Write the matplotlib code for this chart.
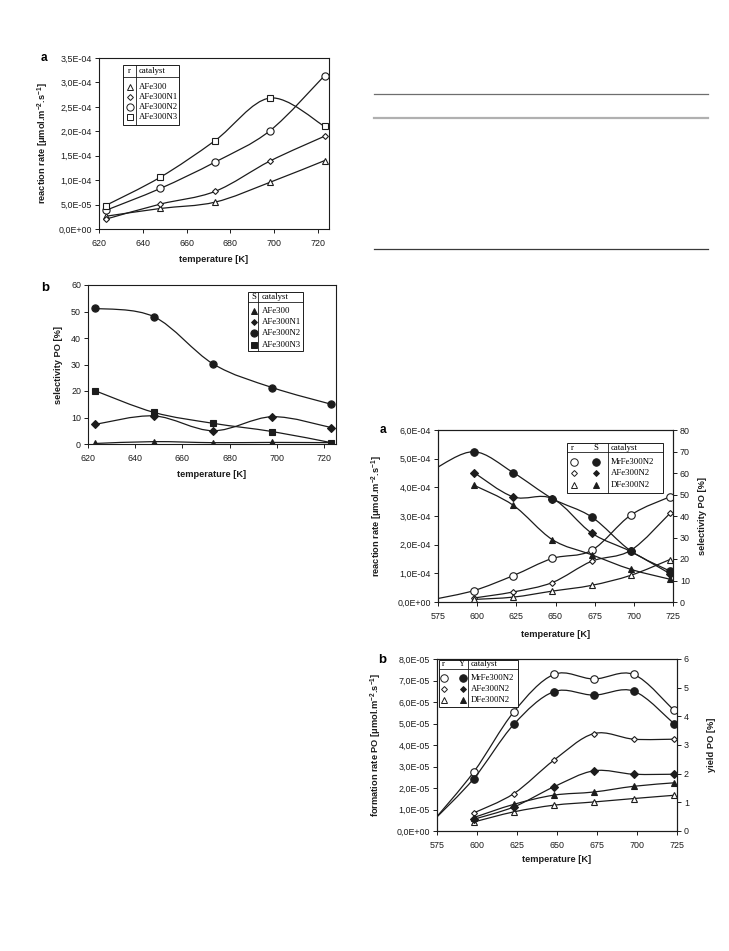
import numpy as np
import matplotlib
matplotlib.use('Agg')
import matplotlib.pyplot as plt
from matplotlib.path import Path
from matplotlib.patches import PathPatch, Rectangle
from matplotlib.lines import Line2D
from matplotlib.ticker import FuncFormatter, MultipleLocator

plt.rcParams['font.family'] = ['Liberation Sans', 'DejaVu Sans']
plt.rcParams['mathtext.fontset'] = 'custom'
plt.rcParams['mathtext.rm'] = 'Liberation Sans:bold'
plt.rcParams['mathtext.it'] = 'Liberation Sans:bold'
plt.rcParams['mathtext.bf'] = 'Liberation Sans:bold'

W, H = 729, 951
INK = '#1c1c1c'

# ── data: left column (AFe300 series) ───────────────────────────────
temp_left = [623, 648, 673, 698, 723]
cat_left = ['AFe300', 'AFe300N1', 'AFe300N2', 'AFe300N3']
r_left = {
    'AFe300':   [0.26e-4, 0.42e-4, 0.55e-4, 0.955e-4, 1.40e-4],
    'AFe300N1': [0.20e-4, 0.51e-4, 0.77e-4, 1.39e-4, 1.90e-4],
    'AFe300N2': [0.38e-4, 0.83e-4, 1.37e-4, 2.01e-4, 3.14e-4],
    'AFe300N3': [0.48e-4, 1.06e-4, 1.81e-4, 2.68e-4, 2.10e-4],
}
s_left = {
    'AFe300':   [0.2, 0.9, 0.5, 0.6, 0.5],
    'AFe300N1': [7.4, 10.6, 5.0, 10.3, 6.2],
    'AFe300N2': [51.2, 48.0, 30.2, 21.3, 15.0],
    'AFe300N3': [20.1, 11.9, 7.8, 4.7, 0.5],
}

# ── data: right column (N2 catalysts) ───────────────────────────────
temp_right = [598, 623, 648, 673, 698, 723]
temp_mr = [573, 598, 623, 648, 673, 698, 723]   # first point lies left of the axis
cat_right = ['MrFe300N2', 'AFe300N2', 'DFe300N2']
r_right = {
    'MrFe300N2': [0.10e-4, 0.40e-4, 0.92e-4, 1.52e-4, 1.80e-4, 3.03e-4, 3.67e-4],
    'AFe300N2':  [0.14e-4, 0.35e-4, 0.68e-4, 1.42e-4, 1.80e-4, 3.09e-4],
    'DFe300N2':  [0.09e-4, 0.17e-4, 0.38e-4, 0.58e-4, 0.93e-4, 1.48e-4],
}
s_right = {
    'MrFe300N2': [62.0, 69.9, 60.2, 48.1, 39.6, 23.8, 14.4],
    'AFe300N2':  [60.2, 48.9, 48.1, 32.1, 23.5, 13.2],
    'DFe300N2':  [54.3, 45.0, 29.0, 22.0, 15.2, 10.6],
}
fr_right = {
    'MrFe300N2': [0.50e-5, 2.75e-5, 5.54e-5, 7.28e-5, 7.07e-5, 7.28e-5, 5.62e-5],
    'AFe300N2':  [0.84e-5, 1.74e-5, 3.29e-5, 4.53e-5, 4.27e-5, 4.27e-5],
    'DFe300N2':  [0.42e-5, 0.89e-5, 1.20e-5, 1.35e-5, 1.51e-5, 1.66e-5],
}
y_right = {
    'MrFe300N2': [0.38, 1.83, 3.72, 4.86, 4.74, 4.88, 3.75],
    'AFe300N2':  [0.41, 0.84, 1.54, 2.10, 1.98, 1.98],
    'DFe300N2':  [0.47, 0.93, 1.25, 1.36, 1.56, 1.68],
}

MARK_LEFT = {'AFe300': ('^', 4.3), 'AFe300N1': ('D', 3.0),
             'AFe300N2': ('o', 5.2), 'AFe300N3': ('s', 4.6)}
MARK_RIGHT = {'MrFe300N2': ('o', 5.4), 'AFe300N2': ('D', 3.0),
              'DFe300N2': ('^', 4.4)}

sci = FuncFormatter(lambda v, p: f"{v:.1E}".replace('.', ','))


def fx(x):
    return x / W


def fy(y):
    return 1 - y / H


def smooth(ax, x, y):
    """Excel-like smoothed line: bezier through the points."""
    pts = np.column_stack([x, y]).astype(float)
    n = len(pts)
    verts = [pts[0]]
    codes = [Path.MOVETO]
    for i in range(n - 1):
        p0 = pts[i - 1] if i > 0 else pts[i]
        p1, p2 = pts[i], pts[i + 1]
        p3 = pts[i + 2] if i + 2 < n else pts[i + 1]
        verts += [p1 + (p2 - p0) / 6, p2 - (p3 - p1) / 6, p2]
        codes += [Path.CURVE4] * 3
    ax.add_patch(PathPatch(Path(verts, codes), fill=False, ec=INK, lw=0.9))


def series(ax, x, y, marker, size, filled, skip_first=False):
    smooth(ax, x, y)
    xs, ys = (x[1:], y[1:]) if skip_first else (x, y)
    ax.plot(xs, ys, ls='none', marker=marker, ms=size,
            mfc=INK if filled else 'white', mec=INK, mew=0.8, zorder=3)


def style(ax, xlim, xstep, ylim, ystep, yfmt=None):
    ax.set_xlim(*xlim)
    ax.set_ylim(*ylim)
    ax.xaxis.set_major_locator(MultipleLocator(xstep))
    ax.yaxis.set_major_locator(MultipleLocator(ystep))
    if yfmt is not None:
        ax.yaxis.set_major_formatter(yfmt)
    for sp in ax.spines.values():
        sp.set_linewidth(0.8)
        sp.set_color(INK)
    ax.tick_params(direction='out', length=3, width=0.7, labelsize=6.4,
                   colors=INK)
    ax.tick_params(axis='x', pad=4)
    ax.tick_params(axis='y', pad=2)


def add_axes(left, top, right, bottom):
    return fig.add_axes([fx(left), fy(bottom), fx(right) - fx(left),
                         fy(top) - fy(bottom)])


def table_legend(box, head_y, div_x, header, rows, text_x):
    x0, y0, x1, y1 = box
    fig.add_artist(Rectangle((fx(x0), fy(y1)), fx(x1) - fx(x0), fy(y0) - fy(y1),
                             transform=fig.transFigure, fc='white', ec=INK,
                             lw=0.7, zorder=5))
    fig.add_artist(Line2D([fx(x0), fx(x1)], [fy(head_y)] * 2,
                          transform=fig.transFigure, color=INK, lw=0.6, zorder=6))
    fig.add_artist(Line2D([fx(div_x)] * 2, [fy(y0), fy(y1)],
                          transform=fig.transFigure, color=INK, lw=0.6, zorder=6))
    hy = (y0 + head_y) / 2
    for hx, txt in header:
        fig.text(fx(hx), fy(hy), txt, family='Liberation Serif', fontsize=6.3,
                 ha='center', va='center', zorder=7)
    fig.text(fx(text_x), fy(hy), 'catalyst', family='Liberation Serif',
             fontsize=6.3, ha='left', va='center', zorder=7)
    for ry, marks, label in rows:
        for mx, marker, size, filled in marks:
            fig.add_artist(Line2D([fx(mx)], [fy(ry)], transform=fig.transFigure,
                                  ls='none', marker=marker, ms=size,
                                  mfc=INK if filled else 'white', mec=INK,
                                  mew=0.7, zorder=7))
        fig.text(fx(text_x), fy(ry), label, family='Liberation Serif',
                 fontsize=6.3, ha='left', va='center', zorder=7)


fig = plt.figure(figsize=(W / 100, H / 100), dpi=100)
lab = dict(fontsize=6.7, fontweight='bold', color=INK)

# ── panel a (left): reaction rate ────────────────────────────────────
ax1 = add_axes(99, 58, 329, 229)
for c in cat_left:
    m, s = MARK_LEFT[c]
    series(ax1, temp_left, r_left[c], m, s, False)
style(ax1, (620, 725), 20, (0, 3.5e-4), 0.5e-4, sci)
ax1.set_xlabel('temperature [K]', **lab)
ax1.xaxis.set_label_coords(0.50, -0.15)
ax1.set_ylabel(r'reaction rate [μmol.m$^{-2}$.s$^{-1}$]', **lab)
ax1.yaxis.set_label_coords(-0.21, 0.5)
fig.text(fx(44), fy(58), 'a', fontsize=8.5, fontweight='bold', ha='center',
         va='center')
table_legend((123, 65, 179, 125), 76.7, 136, [(129.5, 'r')],
             [(y, [(129.5, *MARK_LEFT[c], False)], c)
              for y, c in zip([86.7, 96.7, 107.3, 117.3], cat_left)], 138.5)

# ── panel b (left): selectivity ──────────────────────────────────────
ax2 = add_axes(88, 285, 336, 444)
for c in cat_left:
    m, s = MARK_LEFT[c]
    series(ax2, temp_left, s_left[c], m, s + (0.6 if m == 'D' else 0), True)
style(ax2, (620, 725), 20, (0, 60), 10)
ax2.set_xlabel('temperature [K]', **lab)
ax2.xaxis.set_label_coords(0.50, -0.165)
ax2.set_ylabel('selectivity PO [%]', **lab)
ax2.yaxis.set_label_coords(-0.10, 0.5)
fig.text(fx(45), fy(288), 'b', fontsize=9.5, fontweight='bold', ha='center',
         va='center')
table_legend((248, 292, 303, 351), 301.7, 258.3, [(253.5, 'S')],
             [(y, [(253.5, *MARK_LEFT[c], True)], c)
              for y, c in zip([310.7, 322.3, 333.3, 345.3], cat_left)], 261.5)

# ── panel a (right): reaction rate + selectivity ─────────────────────
ax3 = add_axes(438, 430, 673, 602)
ax3b = ax3.twinx()
for c in cat_right:
    m, s = MARK_RIGHT[c]
    xs = temp_mr if c == 'MrFe300N2' else temp_right
    series(ax3, xs, r_right[c], m, s, False, skip_first=(c == 'MrFe300N2'))
    series(ax3b, xs, s_right[c], m, s + (0.6 if m == 'D' else 0), True,
           skip_first=(c == 'MrFe300N2'))
style(ax3, (575, 725), 25, (0, 6e-4), 1e-4, sci)
style(ax3b, (575, 725), 25, (0, 80), 10)
ax3.set_xlabel('temperature [K]', **lab)
ax3.xaxis.set_label_coords(0.50, -0.16)
ax3.set_ylabel(r'reaction rate [μmol.m$^{-2}$.s$^{-1}$]', **lab)
ax3.yaxis.set_label_coords(-0.225, 0.5)
ax3b.set_ylabel('selectivity PO [%]', rotation=90, **lab)
ax3b.yaxis.set_label_coords(1.105, 0.5)
fig.text(fx(383), fy(430), 'a', fontsize=8.5, fontweight='bold', ha='center',
         va='center')
table_legend((567, 443, 663, 493), 452.3, 608.3, [(572, 'r'), (596, 'S')],
             [(y, [(574, *MARK_RIGHT[c], False), (596, *MARK_RIGHT[c], True)], c)
              for y, c in zip([461.5, 473, 484.5], cat_right)], 610.5)

# ── panel b (right): formation rate + yield ──────────────────────────
ax4 = add_axes(437, 659, 677, 831)
ax4b = ax4.twinx()
for c in cat_right:
    m, s = MARK_RIGHT[c]
    xs = temp_mr if c == 'MrFe300N2' else temp_right
    series(ax4, xs, fr_right[c], m, s, False, skip_first=(c == 'MrFe300N2'))
    series(ax4b, xs, y_right[c], m, s + (0.6 if m == 'D' else 0), True,
           skip_first=(c == 'MrFe300N2'))
style(ax4, (575, 725), 25, (0, 8e-5), 1e-5, sci)
style(ax4b, (575, 725), 25, (0, 6), 1)
ax4.set_xlabel('temperature [K]', **lab)
ax4.xaxis.set_label_coords(0.50, -0.14)
ax4.set_ylabel(r'formation rate PO [μmol.m$^{-2}$.s$^{-1}$]', **lab)
ax4.yaxis.set_label_coords(-0.22, 0.5)
ax4b.set_ylabel('yield PO [%]', rotation=90, **lab)
ax4b.yaxis.set_label_coords(1.123, 0.5)
fig.text(fx(382), fy(660), 'b', fontsize=9.5, fontweight='bold', ha='center',
         va='center')
table_legend((439, 659.5, 518, 707), 669, 468.3, [(443.5, 'r'), (462.5, 'Y')],
             [(y, [(444.3, *MARK_RIGHT[c], False), (462.7, *MARK_RIGHT[c], True)], c)
              for y, c in zip([678.3, 689.3, 700], cat_right)], 471)

# ── table rules at top right ─────────────────────────────────────────
for y, col, lw in [(94.3, '#6e6e6e', 0.9), (118.3, '#b0b0b0', 1.6),
                   (249.3, '#3a3a3a', 0.9)]:
    fig.add_artist(Line2D([fx(374), fx(708)], [fy(y)] * 2,
                          transform=fig.transFigure, color=col, lw=lw))

fig.savefig('out.png', dpi=100)
